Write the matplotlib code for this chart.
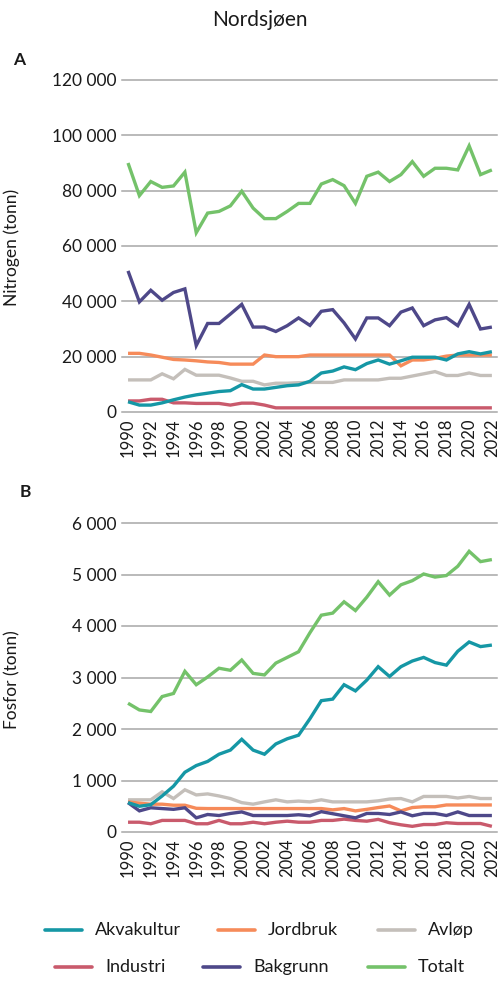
import matplotlib
matplotlib.use("Agg")
import matplotlib.pyplot as plt
from matplotlib.lines import Line2D

plt.rcParams['font.family'] = ['Lato', 'DejaVu Sans']

years = list(range(1990, 2023))

# Nitrogen (tonn)
n_akvakultur = [3700, 2500, 2500, 3300, 4400, 5400, 6200, 6800, 7400, 7700,
                9900, 8300, 8300, 8900, 9500, 9800, 11100, 14100, 14800, 16300,
                15300, 17500, 18800, 17300, 18500, 19800, 19800, 19800, 18800, 21000,
                21800, 21000, 21800]
n_jordbruk = [21200, 21200, 20600, 19800, 19000, 18800, 18500, 18100, 17900, 17300,
              17300, 17300, 20600, 20000, 20000, 20000, 20600, 20600, 20600, 20600,
              20600, 20600, 20600, 20600, 16700, 18800, 18800, 19400, 20200, 20600,
              20600, 20600, 20600]
n_avlop = [11600, 11600, 11600, 13800, 12000, 15400, 13300, 13300, 13300, 12300,
           11100, 11100, 9800, 10400, 10400, 10600, 10700, 10700, 10700, 11600,
           11600, 11600, 11600, 12200, 12200, 13000, 13800, 14600, 13200, 13200,
           14100, 13200, 13200]
n_industri = [4000, 4000, 4600, 4600, 3300, 3300, 3100, 3100, 3100, 2500,
              3200, 3200, 2500, 1500, 1500, 1500, 1500, 1500, 1500, 1500,
              1500, 1500, 1500, 1500, 1500, 1500, 1500, 1500, 1500, 1500,
              1500, 1500, 1500]
n_bakgrunn = [51000, 39800, 44000, 40400, 43200, 44500, 24000, 32000, 32000, 35400,
              38900, 30700, 30700, 29100, 31200, 34000, 31300, 36400, 37000, 32200,
              26400, 34000, 34000, 31200, 36100, 37600, 31200, 33300, 34100, 31200,
              38900, 30000, 30700]
n_totalt = [90000, 78200, 83300, 81200, 81700, 86700, 64800, 71900, 72500, 74500,
            79800, 73700, 69900, 69900, 72500, 75400, 75400, 82400, 84000, 81800,
            75400, 85200, 86700, 83300, 85800, 90500, 85200, 88100, 88100, 87500,
            96200, 85800, 87500]

# Fosfor (tonn)
p_akvakultur = [570, 500, 530, 700, 890, 1160, 1290, 1370, 1510, 1590,
                1800, 1590, 1510, 1710, 1810, 1880, 2200, 2550, 2580, 2860,
                2740, 2950, 3210, 3020, 3210, 3320, 3390, 3290, 3240, 3510,
                3690, 3600, 3630]
p_jordbruk = [585, 560, 540, 540, 520, 520, 460, 455, 455, 455,
              455, 455, 455, 455, 455, 455, 455, 455, 430, 455,
              410, 440, 475, 505, 410, 475, 490, 490, 525, 525,
              525, 525, 525]
p_avlop = [625, 625, 625, 780, 650, 820, 720, 740, 700, 650,
           570, 540, 585, 625, 585, 600, 585, 625, 585, 585,
           585, 585, 605, 640, 650, 585, 690, 690, 690, 660,
           690, 650, 650]
p_industri = [190, 190, 160, 225, 225, 225, 160, 160, 225, 160,
              160, 190, 160, 190, 210, 190, 190, 225, 225, 250,
              225, 210, 245, 180, 140, 110, 145, 145, 180, 165,
              165, 165, 110]
p_bakgrunn = [570, 410, 470, 455, 440, 470, 275, 340, 320, 360,
              390, 320, 320, 320, 320, 335, 315, 395, 355, 315,
              275, 360, 360, 340, 390, 315, 360, 360, 320, 390,
              320, 320, 320]
p_totalt = [2500, 2370, 2340, 2630, 2690, 3120, 2860, 3010, 3180, 3140,
            3340, 3080, 3050, 3280, 3390, 3500, 3870, 4210, 4250, 4470,
            4300, 4560, 4860, 4600, 4800, 4880, 5010, 4950, 4980, 5160,
            5450, 5250, 5290]

series_names = ["Akvakultur", "Jordbruk", "Avløp", "Industri", "Bakgrunn", "Totalt"]
colors = {"Akvakultur": "#1597a5", "Jordbruk": "#f68b5a", "Avløp": "#c4bfba",
          "Industri": "#c95a6c", "Bakgrunn": "#4e4889", "Totalt": "#74c26a"}
draw_order = ["Avløp", "Industri", "Jordbruk", "Bakgrunn", "Akvakultur", "Totalt"]

n_data = dict(zip(series_names, [n_akvakultur, n_jordbruk, n_avlop, n_industri, n_bakgrunn, n_totalt]))
p_data = dict(zip(series_names, [p_akvakultur, p_jordbruk, p_avlop, p_industri, p_bakgrunn, p_totalt]))

n_ticks = [0, 20000, 40000, 60000, 80000, 100000, 120000]
p_ticks = [0, 1000, 2000, 3000, 4000, 5000, 6000]
x_ticks = list(range(1990, 2023, 2))

W, H = 500, 985
fig = plt.figure(figsize=(W / 100, H / 100), dpi=100)
text_col = "#1a1a1a"
grid_col = "#a7a7a7"


def fmt(v):
    return f"{v:,}".replace(",", " ")


def make_axes(rect, data, yticks):
    ax = fig.add_axes(rect)
    for s in draw_order:
        ax.plot(years, data[s], color=colors[s], lw=2.4, solid_joinstyle="miter",
                solid_capstyle="butt", zorder=3)
    ax.set_xlim(1989.47, 2022.45)
    ax.set_ylim(yticks[0], yticks[-1])
    ax.set_yticks(yticks)
    ax.set_yticklabels([fmt(v) for v in yticks], fontsize=12.5, color=text_col)
    ax.set_xticks(x_ticks)
    ax.set_xticklabels([str(y) for y in x_ticks], rotation=90, fontsize=12,
                       color=text_col, va="top")
    for sp in ax.spines.values():
        sp.set_visible(False)
    ax.tick_params(axis="both", length=0)
    ax.tick_params(axis="y", pad=4)
    ax.tick_params(axis="x", pad=5)
    for v in yticks:
        ax.axhline(v, color=grid_col, lw=1.1, zorder=1, clip_on=False)
    ax.set_facecolor("none")
    return ax


axA = make_axes([122 / W, 1 - 412 / H, 375 / W, 332 / H], n_data, n_ticks)
axB = make_axes([122 / W, 1 - 832 / H, 375 / W, 309 / H], p_data, p_ticks)

fig.text(260 / W, 1 - 20 / H, "Nordsjøen", ha="center", va="center", fontsize=15, color=text_col)
fig.text(13 / W, 1 - 60 / H, "A", ha="left", va="center", fontsize=12.5, fontweight="bold", color=text_col)
fig.text(20 / W, 1 - 492 / H, "B", ha="left", va="center", fontsize=12.5, fontweight="bold", color=text_col)
fig.text(12 / W, 1 - 247 / H, "Nitrogen (tonn)", rotation=90, ha="center", va="center",
         fontsize=12.5, color=text_col)
fig.text(12 / W, 1 - 680 / H, "Fosfor (tonn)", rotation=90, ha="center", va="center",
         fontsize=12.5, color=text_col)

legend_items = [
    ("Akvakultur", 45, 930), ("Jordbruk", 218, 930), ("Avløp", 378, 930),
    ("Industri", 55, 967), ("Bakgrunn", 203, 967), ("Totalt", 368, 967),
]
for name, x0, y0 in legend_items:
    yy = 1 - y0 / H
    fig.add_artist(Line2D([x0 / W, (x0 + 37) / W], [yy, yy], color=colors[name], lw=2.6,
                          solid_capstyle="round", transform=fig.transFigure))
    fig.text((x0 + 50) / W, yy, name, ha="left", va="center", fontsize=13, color=text_col)

fig.savefig("out.png", dpi=100, facecolor="white")
